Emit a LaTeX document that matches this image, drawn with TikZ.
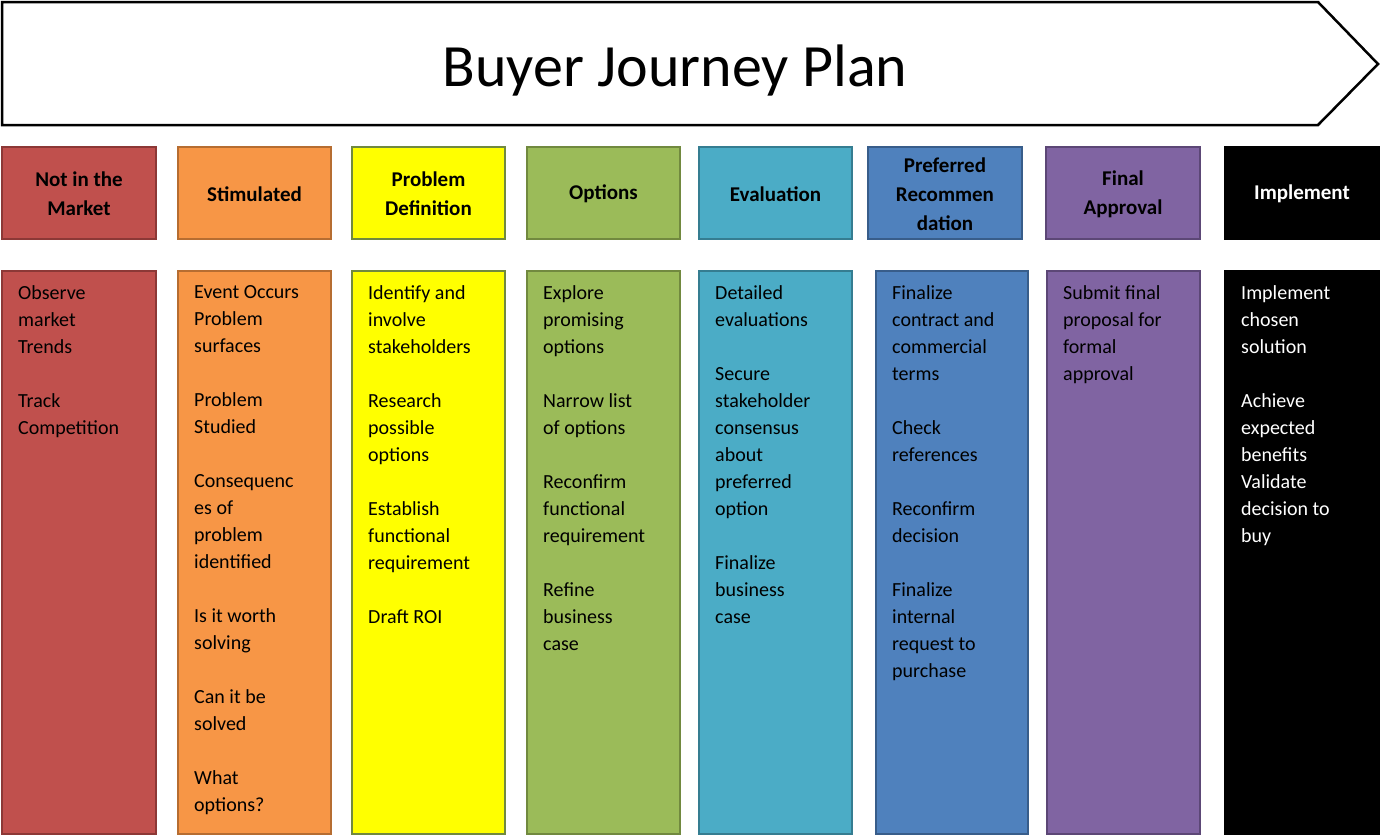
\documentclass[tikz,border=0pt]{standalone}
\usepackage{fontspec}
\setmainfont{Carlito}
\definecolor{c1}{HTML}{C0504D}\definecolor{b1}{HTML}{8C3836}
\definecolor{c2}{HTML}{F79646}\definecolor{b2}{HTML}{B66D31}
\definecolor{c3}{HTML}{FFFF00}\definecolor{b3}{HTML}{71893F}
\definecolor{c4}{HTML}{9BBB59}\definecolor{b4}{HTML}{71893F}
\definecolor{c5}{HTML}{4BACC6}\definecolor{b5}{HTML}{357D91}
\definecolor{c6}{HTML}{4F81BD}\definecolor{b6}{HTML}{385D8A}
\definecolor{c7}{HTML}{8064A2}\definecolor{b7}{HTML}{5C4776}
\definecolor{c8}{HTML}{000000}\definecolor{b8}{HTML}{000000}
\tikzset{
 hdr/.style={font=\fontsize{21}{29}\selectfont\bfseries,align=center},
 bodytxt/.style={font=\fontsize{20}{27}\selectfont,align=left,anchor=north west,inner sep=0pt},
}
\begin{document}
\begin{tikzpicture}[x=1pt,y=-1pt]
\useasboundingbox (0,0) rectangle (1381,836);
\draw[line width=2.5pt] (2,2) -- (1318,2) -- (1378,64) -- (1318,125) -- (2,125) -- cycle;
\node (title) at (675,70) {\fontsize{60}{70}\selectfont Buyer Journey Plan};
% headers
\foreach \i/\xa/\xb/\t/\tc in {
 1/2/156/{Not in the\\Market}/black,
 2/178/331/{Stimulated}/black,
 3/352/505/{Problem\\Definition}/black,
 4/527/680/{Options}/black,
 5/699/852/{Evaluation}/black,
 6/868/1022/{Preferred\\Recommen\\dation}/black,
 7/1046/1200/{Final\\Approval}/black,
 8/1225/1379/{Implement}/white}{
 \draw[fill=c\i,draw=b\i,line width=2.5pt] (\xa,147) rectangle (\xb,239);
 \node[hdr,text=\tc] (h\i) at ({(\xa+\xb)/2},194) {\t};
}
% bodies
\foreach \i/\xa/\xb/\tc/\t in {
 1/2/156/black/{Observe\\market\\Trends\\[27pt]Track\\Competition},
 2/178/331/black/{Event Occurs\\Problem\\surfaces\\[27pt]Problem\\Studied\\[27pt]Consequenc\\es of\\problem\\identified\\[27pt]Is it worth\\solving\\[27pt]Can it be\\solved\\[27pt]What\\options?},
 3/352/505/black/{Identify and\\involve\\stakeholders\\[27pt]Research\\possible\\options\\[27pt]Establish\\functional\\requirement\\[27pt]Draft ROI},
 4/527/680/black/{Explore\\promising\\options\\[27pt]Narrow list\\of options\\[27pt]Reconfirm\\functional\\requirement\\[27pt]Refine\\business\\case},
 5/699/852/black/{Detailed\\evaluations\\[27pt]Secure\\stakeholder\\consensus\\about\\preferred\\option\\[27pt]Finalize\\business\\case},
 6/876/1028/black/{Finalize\\contract and\\commercial\\terms\\[27pt]Check\\references\\[27pt]Reconfirm\\decision\\[27pt]Finalize\\internal\\request to\\purchase},
 7/1047/1200/black/{Submit final\\proposal for\\formal\\approval},
 8/1225/1379/white/{Implement\\chosen\\solution\\[27pt]Achieve\\expected\\benefits\\Validate\\decision to\\buy}}{
 \draw[fill=c\i,draw=b\i,line width=2.5pt] (\xa,271) rectangle (\xb,834);
 \node[bodytxt,text=\tc] (t\i) at (\xa+16,285) {\t};
}
\end{tikzpicture}
\end{document}
